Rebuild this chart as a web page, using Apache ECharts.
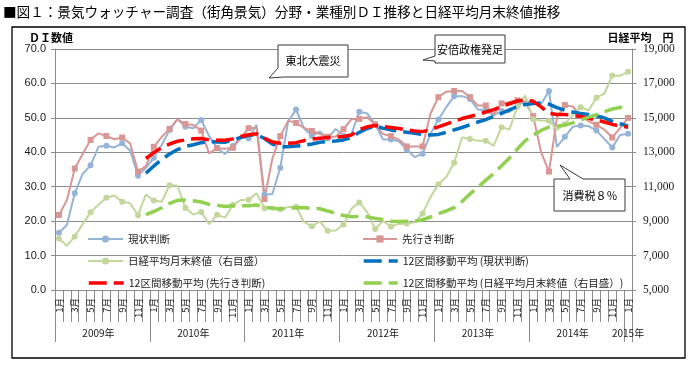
<!DOCTYPE html>
<html><head><meta charset="utf-8">
<script src="https://cdn.jsdelivr.net/npm/echarts@6/dist/echarts.min.js"></script>
<style>html,body{margin:0;padding:0;background:#fff}#c{width:696px;height:368px}</style>
</head><body><div id="c"></div>
<script>
// ---- categories ----
const years = [2009, 2010, 2011, 2012, 2013, 2014, 2015];
const monthNames = ['1月','2月','3月','4月','5月','6月','7月','8月','9月','10月','11月','12月'];
const months = [];
const yearLabels = [];
years.forEach(function (y) {
  const n = (y === 2015) ? 1 : 12;
  for (let m = 0; m < n; m++) {
    months.push(monthNames[m]);
    yearLabels.push((y === 2015 && m === 0) || (y !== 2015 && m === 5) ? y + '年' : '');
  }
});

// ---- series values (Jan 2009 .. Jan 2015) ----
const jokyo = [
  16.6, 18.9, 28.1, 33.7, 36.2, 41.6, 41.9, 41.4, 42.6, 40.5, 33.2, 35.5,
  38.4, 42.1, 46.5, 49.6, 47.4, 47.0, 49.4, 44.7, 41.2, 39.5, 41.8, 44.5,
  44.0, 48.0, 27.7, 27.9, 35.5, 49.0, 52.4, 47.0, 44.8, 46.0, 44.0, 46.8,
  44.7, 45.3, 51.8, 51.3, 48.1, 43.7, 43.7, 43.2, 40.8, 38.6, 39.6, 45.3,
  49.5, 53.1, 56.3, 56.3, 55.5, 52.4, 52.2, 50.7, 52.0, 51.7, 53.5, 55.0,
  54.5, 54.0, 57.8, 41.6, 44.5, 47.4, 47.8, 47.6, 46.3, 43.9, 41.4, 45.0,
  45.4
];
const sakiyuki = [
  21.8, 26.1, 35.3, 39.5, 43.6, 45.5, 44.7, 43.8, 44.3, 42.6, 34.4, 36.0,
  41.6, 44.5, 46.8, 49.6, 48.2, 47.9, 46.3, 39.7, 41.2, 41.0, 41.3, 44.1,
  47.0, 47.1, 26.4, 38.2, 44.7, 49.2, 48.5, 47.1, 46.2, 45.3, 44.5, 44.5,
  46.7, 49.6, 49.7, 50.2, 48.1, 45.3, 44.7, 43.7, 41.7, 41.7, 41.7, 51.2,
  56.0, 57.6, 57.8, 57.8, 56.0, 53.6, 53.6, 51.0, 54.2, 54.6, 55.1, 54.5,
  50.5, 40.0, 34.4, 50.0, 53.7, 53.3, 50.6, 49.0, 48.0, 46.6, 44.3, 47.1,
  50.0
];
const nikkei = [
  7994, 7568, 8110, 8828, 9523, 9958, 10357, 10493, 10133, 10035, 9346, 10546,
  10198, 10126, 11090, 11057, 9769, 9383, 9537, 8824, 9369, 9202, 9937, 10229,
  10238, 10624, 9755, 9850, 9694, 9816, 9833, 8955, 8700, 8988, 8435, 8455,
  8803, 9723, 10084, 9521, 8543, 9007, 8695, 8840, 8870, 8928, 9446, 10395,
  11139, 11559, 12398, 13861, 13775, 13677, 13668, 13389, 14456, 14328, 15662, 16291,
  14915, 14841, 14828, 14304, 14632, 15162, 15621, 15425, 16174, 16414, 17460, 17451,
  17674
];
// 12区間移動平均 (starting Dec 2009)
const maStartGap = 11;
const maJokyoValues = [
  33.9, 36.0, 37.9, 39.5, 40.8, 41.7, 42.2, 42.8, 43.1, 43.0, 42.9, 43.6, 44.3,
  44.9, 45.2, 44.0, 42.4, 41.6, 41.6, 41.8, 42.0, 42.4, 42.9, 43.1, 43.3,
  43.6, 44.3, 45.8, 46.9, 47.6, 47.0, 46.5, 46.1, 45.8, 45.5, 45.2, 45.0,
  45.2, 45.8, 46.5, 47.2, 48.0, 48.8, 49.5, 50.4, 51.3, 52.3, 53.3, 53.9,
  54.2, 54.3, 54.0, 53.0, 52.2, 51.7, 51.3, 51.0, 50.6, 50.0, 49.0, 48.3,
  47.6
];
const maSakiyukiValues = [
  38.2, 39.9, 41.4, 42.4, 43.2, 43.6, 43.9, 44.0, 43.6, 43.5, 43.5, 43.9, 44.6,
  45.1, 45.4, 44.1, 43.0, 42.6, 42.6, 42.8, 43.4, 43.8, 44.1, 44.3, 44.4,
  44.6, 45.0, 46.6, 47.4, 47.8, 47.5, 47.2, 46.9, 46.5, 46.2, 46.0, 46.6,
  47.4, 48.2, 49.0, 49.8, 50.4, 51.0, 51.7, 52.4, 53.3, 54.1, 54.9, 55.2,
  54.8, 53.2, 51.3, 51.0, 51.0, 50.7, 50.4, 49.9, 49.4, 48.8, 48.1, 47.6,
  47.3
];
const maNikkeiValues = [
  9380, 9560, 9780, 10030, 10210, 10230, 10180, 10110, 9970, 9920, 9850, 9900, 9890,
  9900, 9940, 9830, 9730, 9720, 9760, 9780, 9790, 9740, 9720, 9590, 9450,
  9330, 9250, 9280, 9250, 9160, 9090, 8990, 8980, 9000, 8990, 9080, 9240,
  9430, 9590, 9780, 10140, 10580, 10970, 11380, 11760, 12220, 12670, 13190, 13680,
  14000, 14270, 14470, 14510, 14580, 14710, 14870, 15040, 15180, 15360, 15510, 15600,
  15830
];
const pad = Array(maStartGap).fill(null);
const maJokyo = pad.concat(maJokyoValues);
const maSakiyuki = pad.concat(maSakiyukiValues);
const maNikkei = pad.concat(maNikkeiValues);

// ---- names / tick labels ----
const names = ['現状判断', '先行き判断', '日経平均月末終値（右目盛）',
  '12区間移動平均 (現状判断)', '12区間移動平均 (先行き判断)', '12区間移動平均 (日経平均月末終値（右目盛）)'];
const leftAxis = {min: 0, max: 70, step: 10, name: 'ＤＩ数値'};
const rightAxis = {min: 5000, max: 19000, step: 2000, name: '日経平均　円'};
const titleText = '■図１：景気ウォッチャー調査（街角景気）分野・業種別ＤＩ推移と日経平均月末終値推移';
const notes = ['東北大震災', '安倍政権発足', '消費税８％'];

// ---- styling ----
const JP = '"Noto Sans CJK JP", sans-serif';
const GRID = '#8c8c8c';
const TXT = '#1a1a1a';
const C_BLUE = '#95B3D7', C_PINK = '#D99694', C_GREEN = '#C3D69B';
const C_MA_BLUE = '#0070C0', C_MA_RED = '#FF0000', C_MA_GREEN = '#92D050';
const DASH = [18, 7];

function rawSeries(name, data, color, symbol, axis) {
  return {name: name, type: 'line', data: data, yAxisIndex: axis, symbol: symbol, symbolSize: 6,
    itemStyle: {color: color}, lineStyle: {color: color, width: 2}, z: 2};
}
function maSeries(name, data, color, axis) {
  return {name: name, type: 'line', data: data, yAxisIndex: axis, symbol: 'none', showSymbol: false,
    itemStyle: {color: color}, lineStyle: {color: color, width: 3.5, type: DASH, cap: 'butt'}, z: 3};
}
function legendAt(name, left, top, w, hideSymbol) {
  const l = {data: [name], left: left, top: top, padding: 0, itemWidth: w, itemHeight: 9, itemGap: 0,
    textStyle: {fontFamily: JP, fontSize: 10.5, color: TXT, lineHeight: 14}};
  if (hideSymbol) { l.itemStyle = {opacity: 0}; l.lineStyle = {width: 3.5}; }
  return l;
}
function callout(points, tx, ty, text) {
  return [
    {type: 'polygon', z: 100, shape: {points: points}, style: {fill: '#fff', stroke: '#3a3a3a', lineWidth: 1}},
    {type: 'text', z: 101, x: tx, y: ty, style: {text: text, fill: '#000', font: '11px ' + JP, textAlign: 'center', textVerticalAlign: 'middle'}}
  ];
}

const chart = echarts.init(document.getElementById('c'), null, {renderer: 'canvas'});
chart.setOption({
  animation: false,
  backgroundColor: '#fff',
  title: {text: titleText, left: 3, top: 5, padding: 0,
    textStyle: {fontFamily: JP, fontSize: 13.6, fontWeight: 'normal', color: '#000'}},
  grid: {left: 55, right: 64, top: 49, bottom: 78},
  legend: [
    legendAt(names[0], 87, 232, 35, false),
    legendAt(names[1], 362, 232, 34, false),
    legendAt(names[2], 87, 254, 35, false),
    legendAt(names[3], 362, 254, 34, true),
    legendAt(names[4], 87, 276, 35, true),
    legendAt(names[5], 362, 276, 34, true)
  ],
  xAxis: [
    {type: 'category', data: months, boundaryGap: true, position: 'bottom',
      axisLine: {onZero: false, lineStyle: {color: GRID}},
      axisTick: {show: true, interval: 0, length: 32, lineStyle: {color: GRID}},
      axisLabel: {interval: 1, rotate: 90, margin: 8, fontSize: 9.5, color: TXT, fontFamily: JP},
      splitLine: {show: false}},
    {type: 'category', data: yearLabels, boundaryGap: true, position: 'bottom',
      axisLine: {show: false, onZero: false},
      axisTick: {show: true, length: 52, lineStyle: {color: GRID},
        interval: function (i) { return i % 12 === 0; }},
      axisLabel: {interval: 0, margin: 38, fontSize: 10, color: TXT, fontFamily: JP},
      splitLine: {show: false}}
  ],
  yAxis: [
    {type: 'value', position: 'left', min: leftAxis.min, max: leftAxis.max, interval: leftAxis.step,
      name: leftAxis.name, nameLocation: 'end', nameGap: 5,
      nameTextStyle: {fontFamily: JP, fontSize: 11, fontWeight: 'bold', color: '#000', padding: [0, 8, 0, 0]},
      axisLine: {show: true, lineStyle: {color: GRID}},
      axisTick: {show: true, length: 4, lineStyle: {color: GRID}},
      axisLabel: {margin: 9, fontSize: 11, color: TXT, fontFamily: 'Liberation Sans',
        formatter: function (v) { return v.toFixed(1); }},
      splitLine: {show: true, lineStyle: {color: GRID, width: 1}}},
    {type: 'value', position: 'right', min: rightAxis.min, max: rightAxis.max, interval: rightAxis.step,
      name: rightAxis.name, nameLocation: 'end', nameGap: 5,
      nameTextStyle: {fontFamily: JP, fontSize: 11, fontWeight: 'bold', color: '#000', padding: [0, 0, 0, 17]},
      axisLine: {show: true, lineStyle: {color: GRID}},
      axisTick: {show: true, length: 4, lineStyle: {color: GRID}},
      axisLabel: {margin: 11, fontSize: 11.5, color: TXT, fontFamily: 'Liberation Serif',
        formatter: function (v) { return v.toLocaleString('en-US'); }},
      splitLine: {show: false}}
  ],
  series: [
    rawSeries(names[0], jokyo, C_BLUE, 'circle', 0),
    rawSeries(names[1], sakiyuki, C_PINK, 'rect', 0),
    rawSeries(names[2], nikkei, C_GREEN, 'circle', 1),
    maSeries(names[3], maJokyo, C_MA_BLUE, 0),
    maSeries(names[4], maSakiyuki, C_MA_RED, 0),
    maSeries(names[5], maNikkei, C_MA_GREEN, 1)
  ],
  graphic: [
    {type: 'rect', z: 90, silent: true, shape: {x: 12, y: 27, width: 673, height: 331},
      style: {fill: 'none', stroke: '#000', lineWidth: 1.3}}
  ].concat(
    callout([[278,45],[348,45],[348,77],[284,77],[269,78],[278,68]], 313, 61, notes[0]),
    callout([[435,35],[505,35],[505,63],[435,63],[435,61],[423,60],[435,56]], 470, 50, notes[1]),
    callout([[554,179],[570,179],[560,165],[583,179],[625,179],[625,211],[554,211]], 590, 196, notes[2])
  )
});
</script>
</body></html>
